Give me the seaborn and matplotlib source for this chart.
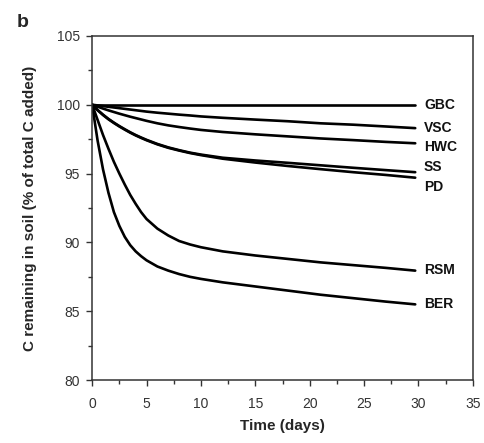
import numpy as np
import pandas as pd
import matplotlib
matplotlib.use("Agg")
import matplotlib.pyplot as plt
import seaborn as sns
from matplotlib.ticker import MultipleLocator

# ---- data ----
days = [0, 0.5, 1, 1.5, 2, 2.5, 3, 3.5, 4, 4.5, 5, 6, 7, 8, 9, 10, 12, 15, 18, 21, 24, 27, 29.7]
GBC = [100.0] * len(days)
VSC = [100, 99.95, 99.9, 99.85, 99.8, 99.75, 99.7, 99.65, 99.6, 99.55, 99.5, 99.42, 99.35, 99.28, 99.22, 99.15, 99.05, 98.92, 98.8, 98.65, 98.55, 98.42, 98.3]
HWC = [100, 99.86, 99.72, 99.59, 99.47, 99.35, 99.24, 99.13, 99.03, 98.93, 98.83, 98.65, 98.5, 98.38, 98.27, 98.17, 98.02, 97.85, 97.7, 97.55, 97.43, 97.3, 97.2]
SS = [100, 99.62, 99.28, 98.97, 98.7, 98.45, 98.22, 98.0, 97.8, 97.62, 97.45, 97.15, 96.9, 96.7, 96.52, 96.38, 96.15, 95.95, 95.78, 95.6, 95.42, 95.25, 95.1]
PD = [100, 99.6, 99.25, 98.94, 98.67, 98.42, 98.19, 97.97, 97.77, 97.59, 97.42, 97.12, 96.87, 96.67, 96.49, 96.34, 96.08, 95.8, 95.55, 95.32, 95.1, 94.9, 94.7]
RSM = [100, 98.9, 97.8, 96.8, 95.85, 95.0, 94.2, 93.45, 92.8, 92.2, 91.7, 91.0, 90.5, 90.1, 89.85, 89.65, 89.35, 89.05, 88.8, 88.55, 88.35, 88.15, 87.95]
BER = [100, 97.4, 95.3, 93.6, 92.2, 91.2, 90.4, 89.8, 89.35, 89.0, 88.7, 88.25, 87.95, 87.7, 87.5, 87.35, 87.1, 86.8, 86.5, 86.2, 85.95, 85.7, 85.5]

series_names = ["GBC", "VSC", "HWC", "SS", "PD", "RSM", "BER"]
series_values = [GBC, VSC, HWC, SS, PD, RSM, BER]
label_y = [100.0, 98.3, 96.95, 95.5, 94.0, 88.0, 85.5]

rows = []
for name, vals in zip(series_names, series_values):
    for d, v in zip(days, vals):
        rows.append({"day": d, "value": v, "series": name})
df = pd.DataFrame(rows)

# ---- plot ----
sns.set_theme(style="ticks")
plt.rcParams["font.family"] = ["Liberation Sans", "DejaVu Sans"]

fig = plt.figure(figsize=(4.85, 4.43), dpi=100)
ax = fig.add_axes([0.19, 0.142, 0.785, 0.777])

sns.lineplot(data=df, x="day", y="value", hue="series",
             palette=["black"] * len(series_names), legend=False,
             linewidth=1.9, ax=ax, estimator=None, sort=False)

for name, ly in zip(series_names, label_y):
    ax.text(30.5, ly, name, fontsize=10, fontweight="bold", va="center", ha="left", color="#111111")

ax.set_xlim(0, 35)
ax.set_ylim(80, 105)
ax.xaxis.set_major_locator(MultipleLocator(5))
ax.xaxis.set_minor_locator(MultipleLocator(2.5))
ax.yaxis.set_major_locator(MultipleLocator(5))
ax.yaxis.set_minor_locator(MultipleLocator(2.5))
ax.tick_params(which="major", direction="out", length=4, width=1.0, labelsize=10,
               labelcolor="#333333", color="#333333", pad=8)
ax.tick_params(which="minor", direction="out", length=3, width=1.0, color="#333333")
ax.tick_params(axis="y", pad=5)
for s in ax.spines.values():
    s.set_visible(True)
    s.set_linewidth(1.1)
    s.set_color("#333333")

ax.set_xlabel("Time (days)", fontsize=11, fontweight="bold", labelpad=6)
ax.set_ylabel("C remaining in soil (% of total C added)", fontsize=11, fontweight="bold", labelpad=14)

fig.text(0.035, 0.95, "b", fontsize=14, fontweight="bold", ha="left", va="center")

fig.savefig("out.png", dpi=100)
